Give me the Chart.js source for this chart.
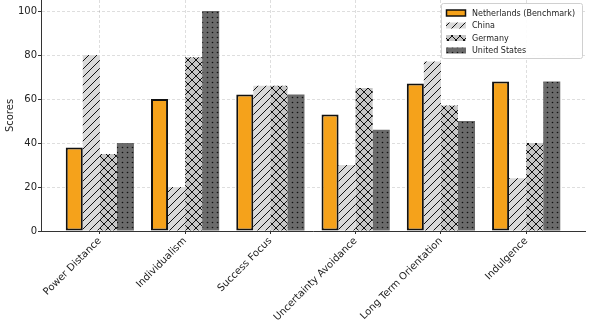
<!DOCTYPE html>
<html>
<head>
<meta charset="utf-8">
<script src="https://cdn.jsdelivr.net/npm/chart.js@4.4.0/dist/chart.umd.min.js"></script>
<style>
  html, body { margin: 0; padding: 0; background: #fff; }
  canvas { display: block; }
</style>
</head>
<body>
<canvas id="chart" width="591" height="326"></canvas>
<script>
// data
const dimensions = ['Power Distance', 'Individualism', 'Success Focus', 'Uncertainty Avoidance', 'Long Term Orientation', 'Indulgence'];
const netherlands = [38, 60, 62, 53, 67, 68];
const china = [80, 20, 66, 30, 77, 24];
const germany = [35, 79, 66, 65, 57, 40];
const unitedStates = [40, 100, 62, 46, 50, 68];
const yTicks = [0, 20, 40, 60, 80, 100];

Chart.defaults.font.family = 'DejaVu Sans';
Chart.defaults.color = '#222';

// small tiles used as hatch fills
function makePattern(bg, size, draw) {
  const c = document.createElement('canvas');
  c.width = size;
  c.height = size;
  const g = c.getContext('2d');
  g.fillStyle = bg;
  g.fillRect(0, 0, size, size);
  g.strokeStyle = '#111';
  g.fillStyle = '#111';
  g.lineWidth = 1;
  draw(g, size);
  return g.createPattern(c, 'repeat');
}

function slash(g, s) {
  g.beginPath();
  g.moveTo(-1, 1); g.lineTo(1, -1);
  g.moveTo(0, s); g.lineTo(s, 0);
  g.moveTo(s - 1, s + 1); g.lineTo(s + 1, s - 1);
  g.stroke();
}

function backslash(g, s) {
  g.beginPath();
  g.moveTo(-1, s - 1); g.lineTo(1, s + 1);
  g.moveTo(0, 0); g.lineTo(s, s);
  g.moveTo(s - 1, -1); g.lineTo(s + 1, 1);
  g.stroke();
}

const chinaFill = makePattern('#d9d9d9', 8, slash);
const germanyFill = makePattern('#c6c6c6', 8, (g, s) => { slash(g, s); backslash(g, s); });
const usFill = makePattern('#6b6b6b', 5, (g, s) => {
  g.beginPath();
  g.arc(2.5, 2.5, 0.8, 0, Math.PI * 2);
  g.fill();
});

// legend drawn as a framed box inside the plot, like the original
const boxLegend = {
  id: 'boxLegend',
  afterDraw(chart) {
    const ctx = chart.ctx;
    const sets = chart.data.datasets;
    const x = 441, y = 3, w = 141, h = 55;
    ctx.save();
    ctx.fillStyle = 'rgba(255,255,255,0.9)';
    ctx.strokeStyle = '#d0d0d0';
    ctx.lineWidth = 1;
    ctx.beginPath();
    ctx.roundRect(x + 0.5, y + 0.5, w, h, 2);
    ctx.fill();
    ctx.stroke();
    ctx.font = '8px DejaVu Sans';
    ctx.textBaseline = 'middle';
    sets.forEach((ds, i) => {
      const cy = y + 10 + i * 12.5;
      ctx.fillStyle = ds.backgroundColor;
      ctx.fillRect(446, cy - 3, 20, 6);
      if (ds.borderWidth) {
        ctx.strokeStyle = ds.borderColor;
        ctx.lineWidth = 1.5;
        ctx.strokeRect(446.5, cy - 3, 19, 6);
      }
      ctx.fillStyle = '#222';
      ctx.fillText(ds.label, 472, cy + 0.5);
    });
    ctx.restore();
  }
};

new Chart(document.querySelector('#chart'), {
  type: 'bar',
  data: {
    labels: dimensions,
    datasets: [
      { label: 'Netherlands (Benchmark)', data: netherlands, backgroundColor: '#f5a21b', borderColor: '#111', borderWidth: 2, borderSkipped: false },
      { label: 'China', data: china, backgroundColor: chinaFill, borderWidth: 0 },
      { label: 'Germany', data: germany, backgroundColor: germanyFill, borderWidth: 0 },
      { label: 'United States', data: unitedStates, backgroundColor: usFill, borderWidth: 0 },
    ],
  },
  options: {
    responsive: false,
    animation: false,
    events: [],
    layout: { padding: { left: 0, right: 6, top: 0, bottom: 0 } },
    datasets: { bar: { categoryPercentage: 0.8, barPercentage: 1.0 } },
    plugins: { legend: { display: false }, tooltip: { enabled: false } },
    scales: {
      x: {
        grid: { offset: false, color: 'rgba(0,0,0,0.13)', tickColor: '#333', tickLength: 3, tickBorderDash: [] },
        border: { color: '#333', width: 1, dash: [3, 2] },
        ticks: { font: { size: 10 }, color: '#222', minRotation: 45, maxRotation: 45, autoSkip: false, padding: 1 },
        // wider side margins than the default half category
        afterBuildTicks: (s) => { s._startValue = -0.69; s._valueRange = 6.38; },
        afterFit: (s) => { s.height = 95; s.paddingLeft = 0; s.paddingRight = 0; },
      },
      y: {
        min: 0,
        max: 105,
        grid: { color: 'rgba(0,0,0,0.13)', tickColor: '#333', tickLength: 3, tickBorderDash: [] },
        border: { color: '#333', width: 1, dash: [3, 2] },
        ticks: { stepSize: 20, font: { size: 10 }, color: '#222', padding: 1 },
        afterBuildTicks: (s) => { s.ticks = yTicks.map(v => ({ value: v })); },
        afterFit: (s) => { s.width = 41; s.paddingTop = 0; s.paddingBottom = 0; },
        title: { display: true, text: 'Scores', font: { size: 10 }, color: '#222', padding: { top: 4, bottom: 0 } },
      },
    },
  },
  plugins: [boxLegend],
});
</script>
</body>
</html>
